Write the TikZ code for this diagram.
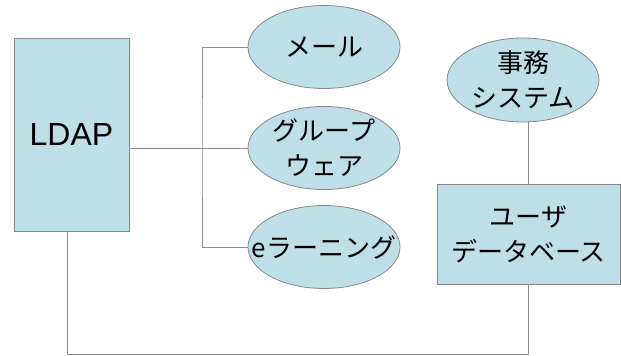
\documentclass[tikz,border=0pt]{standalone}
\usepackage{fontspec}
\setmainfont{Liberation Sans}
\newfontfamily\jpfont{Noto Sans CJK JP}
\usetikzlibrary{shapes.geometric}
\definecolor{boxfill}{RGB}{190,223,231}
\definecolor{edgegray}{RGB}{135,135,135}
\definecolor{linegray}{RGB}{140,140,140}
\tikzset{
  base/.style={draw=edgegray, line width=0.8pt, fill=boxfill, inner sep=0pt, align=center,
    font=\jpfont\fontsize{26}{35}\selectfont},
  oval/.style={base, ellipse, inner xsep=-60pt, inner ysep=-40pt,
    minimum width=152pt, minimum height=83pt},
  block/.style={base, rectangle},
  wire/.style={draw=linegray, line width=0.8pt}
}
\begin{document}
\begin{tikzpicture}[x=1pt,y=1pt]
\useasboundingbox (0,0) rectangle (621,356);
% nodes (y measured from the bottom edge)
\node[block, minimum width=115pt, minimum height=193pt, font=\fontsize{32}{38}\selectfont] (ldap) at (71.5,221.5) {LDAP};
\node[oval] (mail) at (324,309) {メール};
\node[oval] (gw) at (324,208) {グループ\\ウェア};
\node[oval] (el) at (324,109) {eラーニング};
\node[oval, minimum height=84pt] (jimu) at (523,276) {事務\\システム};
\node[block, minimum width=183pt, minimum height=100pt] (udb) at (528.5,122) {ユーザ\\データベース};
% connectors
\coordinate (bus) at (202,208);
\coordinate (base) at (0,2);
\draw[wire] (ldap.east |- gw.west) -- (gw.west);
\draw[wire] (mail.west) -| (bus) |- (el.west);
\draw[wire] (udb.north) -- (udb.north |- jimu.south);
\draw[wire] ([xshift=-4.5pt]ldap.south) |- (base -| udb.south) -- (udb.south);
\end{tikzpicture}
\end{document}
